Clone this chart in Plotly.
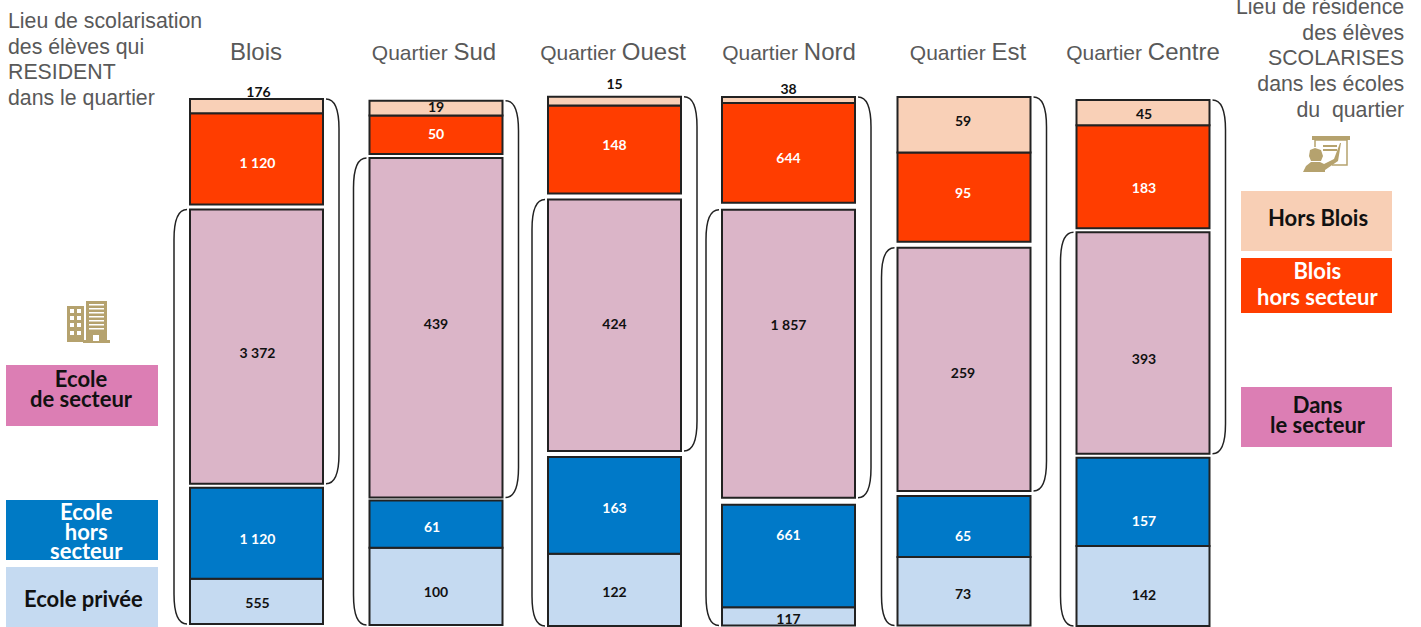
import plotly.graph_objects as go

# ---- data ----
COLUMNS = ["Blois", "Quartier Sud", "Quartier Ouest", "Quartier Nord", "Quartier Est", "Quartier Centre"]
HORS_BLOIS = [176, 19, 15, 38, 59, 45]
BLOIS_HORS_SECTEUR = [1120, 50, 148, 644, 95, 183]
ECOLE_DE_SECTEUR = [3372, 439, 424, 1857, 259, 393]
ECOLE_HORS_SECTEUR = [1120, 61, 163, 661, 65, 157]
ECOLE_PRIVEE = [555, 100, 122, 117, 73, 142]

# ---- layout constants (page pixels) ----
W, H, TOP_MARGIN = 1421, 627, 65
BAR_CENTERS = [256.5, 436, 614.5, 788.5, 964, 1143]
BAR_WIDTH = 133
COL_TOP = [99, 100.7, 96.7, 97, 97, 100]
COL_BOTTOM = [624, 625, 626, 625.5, 625.5, 626]
GAP_UPPER = [5, 4, 6, 7, 6, 4]
GAP_LOWER = [4, 3, 6, 7, 5, 4]
TITLE_X = [256, 434, 613, 789, 968, 1143]
# label vertical offsets from segment centre, pixels
NUDGE = {
    "pale": [-13, 0, -16, -9, -2, 3],
    "red": [6, 1, -3, 7, -3, 13],
    "pink": [8, -2, 0, -27, 5, 17],
    "blue": [7, 4, 4, -20, 11, 21],
    "light": [3, 7, 4, 4, 4, 10],
}
LABEL_DX = [1, 0, 0, 0, -1, 1]
NUDGE_X = {("blue", 1): -4, ("pale", 0): 1}

BAR_LINE = "#222222"
TEXT_GREY = "#595959"
TAN = "#B5A26E"


def u(py):
    """Page pixel row to axis unit (share of a column's height)."""
    return (624 - py) / 526


def paper_y(py):
    return (H - py) / (H - TOP_MARGIN)


def fmt(v):
    return f"{v:,}".replace(",", "\u00a0")


SERIES = [
    ("Ecole privée", ECOLE_PRIVEE, "#C5DAF1", "light", "#111111"),
    ("Ecole hors secteur", ECOLE_HORS_SECTEUR, "#0079C8", "blue", "#ffffff"),
    ("Ecole de secteur", ECOLE_DE_SECTEUR, "#DBB5C8", "pink", "#111111"),
    ("Blois hors secteur", BLOIS_HORS_SECTEUR, "#FF3D00", "red", "#ffffff"),
    ("Hors Blois", HORS_BLOIS, "#F9D0B7", "pale", "#111111"),
]

n = len(COLUMNS)
totals = [sum(s[1][i] for s in SERIES) for i in range(n)]
scale = [
    (COL_BOTTOM[i] - COL_TOP[i] - GAP_UPPER[i] - GAP_LOWER[i]) / totals[i] / 526
    for i in range(n)
]
cursor = [u(COL_BOTTOM[i]) for i in range(n)]
edges = {}

fig = go.Figure()
for name, vals, colour, key, tcolour in SERIES:
    heights = [vals[i] * scale[i] for i in range(n)]
    if key == "pink":
        cursor = [cursor[i] + GAP_LOWER[i] / 526 for i in range(n)]
    if key == "red":
        cursor = [cursor[i] + GAP_UPPER[i] / 526 for i in range(n)]
    bases = list(cursor)
    edges[key] = (bases, [bases[i] + heights[i] for i in range(n)])
    fig.add_trace(go.Bar(
        name=name, x=BAR_CENTERS, y=heights, base=bases, width=BAR_WIDTH,
        marker=dict(color=colour, line=dict(color=BAR_LINE, width=2)),
        hoverinfo="skip", showlegend=False,
    ))
    cursor = edges[key][1]

for name, vals, colour, key, tcolour in SERIES:
    ys = [(edges[key][0][i] + edges[key][1][i]) / 2 - NUDGE[key][i] / 526 for i in range(n)]
    fig.add_trace(go.Scatter(
        x=[BAR_CENTERS[i] + LABEL_DX[i] + NUDGE_X.get((key, i), 0) for i in range(n)],
        y=ys, mode="text",
        text=[fmt(v) for v in vals],
        textfont=dict(family="Lato", size=14, color=tcolour, weight="bold"),
        hoverinfo="skip", showlegend=False, cliponaxis=False,
    ))

shapes, annotations = [], []


def rect(x0, y0, x1, y1, colour):
    shapes.append(dict(type="rect", xref="x", yref="y", x0=x0, x1=x1, y0=u(y0), y1=u(y1),
                       fillcolor=colour, line_width=0, layer="above"))


def poly(points, colour, closed=True, width=0):
    d = "M" + " L".join(f"{x},{u(y)}" for x, y in points) + (" Z" if closed else "")
    shapes.append(dict(type="path", xref="x", yref="y", path=d, layer="above",
                       fillcolor=colour if closed else None,
                       line=dict(color=colour, width=width)))


def text(x, y, lines, size, colour, spacing=None, family="Lato", bold=True, anchor="center"):
    """One text block; the block's base font sets the line spacing, the span sets the glyph size."""
    base = (spacing or size * 1.3) / 1.3
    body = "<br>".join(f'<span style="font-size:{size}px">{ln}</span>' for ln in lines)
    annotations.append(dict(xref="x", yref="paper", x=x, y=paper_y(y), text=body, showarrow=False,
                            xanchor=anchor, yanchor="middle", align=anchor,
                            font=dict(family=family, size=base, color=colour,
                                      weight="bold" if bold else "normal")))


def brace(side, xedge, y_top, y_bot):
    sgn = 1 if side == "right" else -1
    x0 = xedge + sgn * 3
    x1 = xedge + sgn * 16
    t, b = u(y_top), u(y_bot)
    r = 30 / 526
    d = (f"M{x0},{t} Q{x1},{t} {x1},{t - r} L{x1},{b + r} Q{x1},{b} {x0},{b}")
    shapes.append(dict(type="path", xref="x", yref="y", path=d, layer="above",
                       line=dict(color="#222222", width=1.5)))


for i in range(n):
    left, right = BAR_CENTERS[i] - BAR_WIDTH / 2, BAR_CENTERS[i] + BAR_WIDTH / 2
    y_top = 624 - edges["pale"][1][i] * 526
    y_pink_bot = 624 - edges["pink"][0][i] * 526
    y_pink_top = 624 - edges["pink"][1][i] * 526
    y_bot = 624 - edges["light"][0][i] * 526
    brace("right", right, y_top, y_pink_bot)
    brace("left", left, y_pink_top, y_bot)

# legend boxes: x0, x1, y0, y1, fill, lines, text colour, text centre x, text centre y, line spacing
BOX_L = [
    (6, 158, 365, 426, "#DC7EB4", ["Ecole", "de secteur"], "#111111", 81.5, 389, 20),
    (6, 158, 500, 560, "#007AC5", ["Ecole", "hors", "secteur"], "#ffffff", 86.5, 530.5, 19.6),
    (6, 158, 567, 627, "#C5DAF1", ["Ecole privée"], "#111111", 83, 598.5, None),
    (1241, 1392, 191, 251, "#F8CFB5", ["Hors Blois"], "#111111", 1318, 218, None),
    (1241, 1392, 258, 313, "#FF3D00", ["Blois", "hors secteur"], "#ffffff", 1318, 283.5, 26),
    (1241, 1392, 387, 447, "#DC7EB4", ["Dans", "le secteur"], "#111111", 1318, 414.5, 20),
]
for x0, x1, y0, y1, c, lines, tc, tx, ty, sp in BOX_L:
    rect(x0, y0, x1, y1, c)
    text(tx, ty, lines, 22, tc, spacing=sp)

# header texts
text(6, 59.5, ["Lieu de scolarisation", "des élèves qui", "RESIDENT", "dans le quartier"],
     21.3, TEXT_GREY, spacing=25.6, family="Liberation Sans", bold=False, anchor="left")
text(1406, 58.7, ["Lieu de résidence", "des élèves", "SCOLARISES", "dans les écoles", "du\u00a0\u00a0quartier"],
     21.3, TEXT_GREY, spacing=25.7, family="Liberation Sans", bold=False, anchor="right")

# building icon
rect(67, 306, 84, 342, TAN)
rect(86, 301, 107, 342, TAN)
rect(83, 340, 110, 343, TAN)
for cx in (70, 77):
    for cy in (309, 316, 323, 331):
        rect(cx, cy, cx + 4, cy + 4, "#ffffff")
for cy in (304, 308, 312, 316, 320, 324, 328):
    rect(89, cy, 104, cy + 1.5, "#ffffff")
rect(93, 335, 99, 341, "#ffffff")

# teacher icon
rect(1312, 136, 1350, 140, TAN)
poly([(1315, 140), (1315, 147), (1315, 140), (1347, 140), (1347, 165), (1332, 165)], TAN, closed=False, width=1.5)
rect(1323, 145, 1337, 147, TAN)
rect(1323, 149, 1337, 151, TAN)
poly([(1310, 150), (1315, 148), (1321, 150), (1323, 156), (1321, 161), (1311, 161), (1309, 156)], TAN)
poly([(1303, 172), (1306, 166), (1311, 162), (1320, 162), (1324, 164), (1334, 159), (1340, 143), (1341, 143),
      (1338, 161), (1325, 170), (1325, 172)], TAN)

titles = []
for c in COLUMNS:
    if " " in c:
        a, b = c.split(" ")
        titles.append(f'{a} <span style="font-size:24px">{b}</span>')
    else:
        titles.append(f'<span style="font-size:24px">{c}</span>')

fig.update_layout(
    width=W, height=H, barmode="overlay",
    margin=dict(l=0, r=0, t=TOP_MARGIN, b=0, autoexpand=False),
    paper_bgcolor="#ffffff", plot_bgcolor="#ffffff",
    shapes=shapes, annotations=annotations,
    xaxis=dict(range=[0, W], side="top", tickmode="array", tickvals=TITLE_X, ticktext=titles,
               tickfont=dict(family="Liberation Sans", size=21, color=TEXT_GREY),
               ticks="", showgrid=False, zeroline=False, showline=False, fixedrange=True),
    yaxis=dict(range=[u(H), u(TOP_MARGIN)], visible=False, fixedrange=True),
)
fig.write_html("out.html", config={"displayModeBar": False},
               post_script="document.body.style.margin='0';document.body.style.overflow='hidden';")
